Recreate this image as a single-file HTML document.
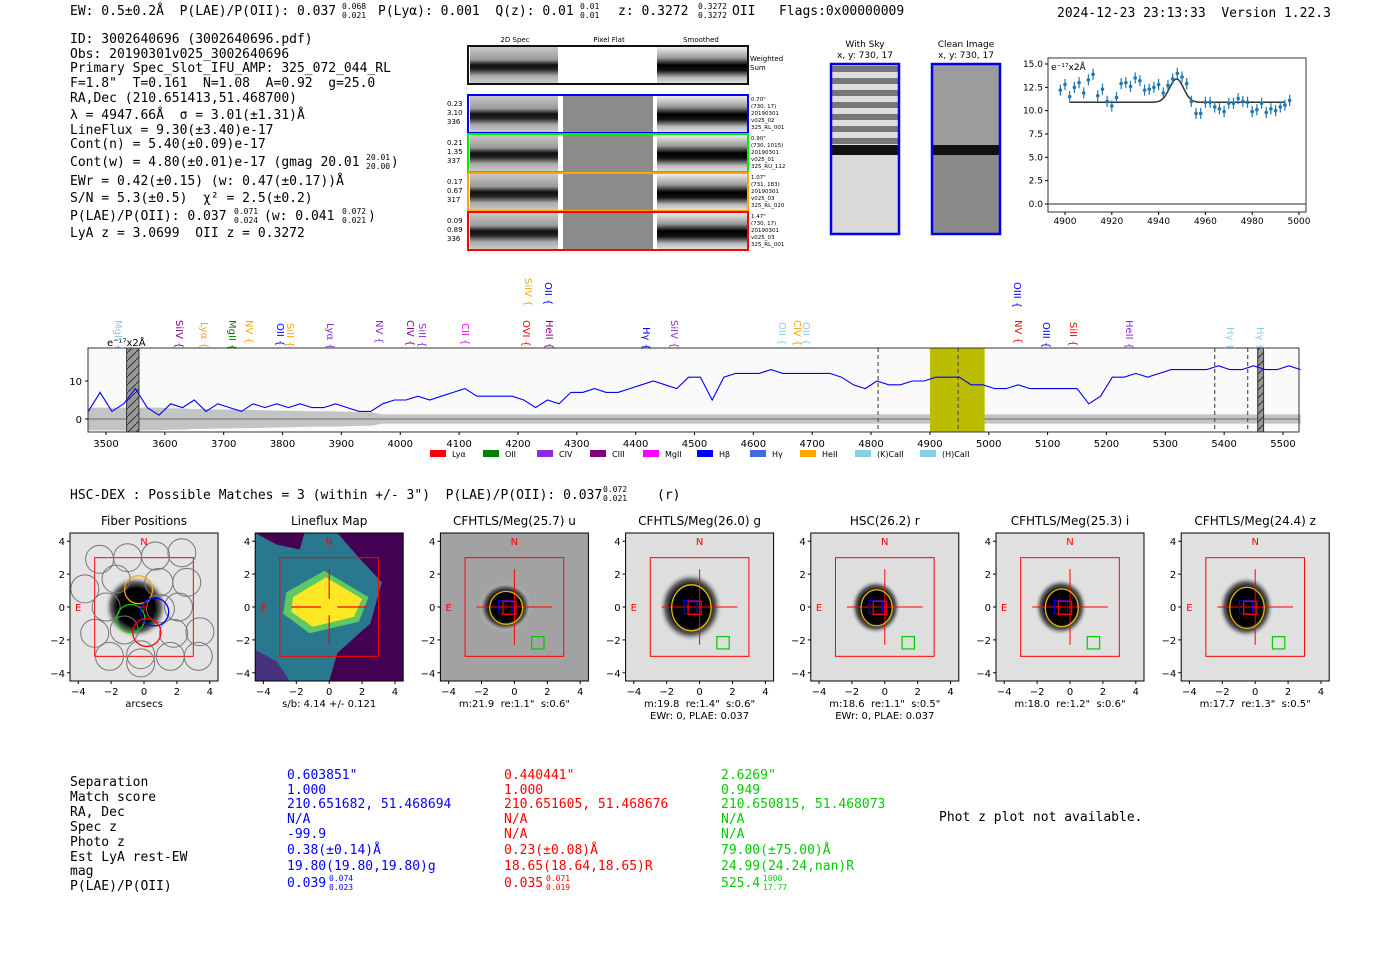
<!DOCTYPE html>
<html><head><meta charset="utf-8"><style>
html,body{margin:0;padding:0;background:#fff;}
svg{display:block;font-family:"DejaVu Sans","Liberation Sans",sans-serif;}
svg text{white-space:pre;}
.m{font-family:"DejaVu Sans Mono","Liberation Mono",monospace;font-size:13px;}
.t{font-size:10px;fill:#000;}
</style></head><body>
<svg id="root" width="1400" height="953" viewBox="0 0 1400 953" xml:space="preserve">
<defs>
<linearGradient id="band" x1="0" y1="0" x2="0" y2="1">
<stop offset="0" stop-color="#c8c8c8"/><stop offset="0.35" stop-color="#9a9a9a"/><stop offset="0.5" stop-color="#111"/><stop offset="0.62" stop-color="#222"/><stop offset="0.8" stop-color="#aaa"/><stop offset="1" stop-color="#c8c8c8"/></linearGradient>
<linearGradient id="bandS" x1="0" y1="0" x2="0" y2="1">
<stop offset="0" stop-color="#eee"/><stop offset="0.3" stop-color="#999"/><stop offset="0.5" stop-color="#000"/><stop offset="0.65" stop-color="#111"/><stop offset="0.85" stop-color="#bbb"/><stop offset="1" stop-color="#ddd"/></linearGradient>
<radialGradient id="blob"><stop offset="0" stop-color="#000"/><stop offset="0.6" stop-color="#000"/><stop offset="0.8" stop-color="#666"/><stop offset="1" stop-color="#ddd" stop-opacity="0"/></radialGradient>
<pattern id="hatch" width="8" height="8" patternUnits="userSpaceOnUse"><rect width="8" height="8" fill="#999"/><path d="M0 8 L8 0" stroke="#333" stroke-width="1"/></pattern>
<pattern id="sky" width="10" height="12" patternUnits="userSpaceOnUse"><rect width="10" height="12" fill="#ddd"/><rect y="6" width="10" height="6" fill="#777"/></pattern>
</defs>

<g class="m">
<text x="70" y="15">EW: 0.5±0.2Å  P(LAE)/P(OII): 0.037</text>
<text x="342" y="9" font-size="8">0.068</text><text x="342" y="18" font-size="8">0.021</text>
<text x="378" y="15">P(Lyα): 0.001  Q(z): 0.01</text>
<text x="580" y="9" font-size="8">0.01</text><text x="580" y="18" font-size="8">0.01</text>
<text x="618" y="15">z: 0.3272</text>
<text x="698" y="9" font-size="8">0.3272</text><text x="698" y="18" font-size="8">0.3272</text>
<text x="732" y="15">OII   Flags:0x00000009</text>
<text x="1057" y="17">2024-12-23 23:13:33  Version 1.22.3</text>
</g>

<g class="m">
<text x="70" y="43">ID: 3002640696 (3002640696.pdf)</text>
<text x="70" y="58">Obs: 20190301v025_3002640696</text>
<text x="70" y="72">Primary Spec_Slot_IFU_AMP: 325_072_044_RL</text>
<text x="70" y="87">F=1.8"  T=0.161  N=1.08  A=0.92  g=25.0</text>
<text x="70" y="102">RA,Dec (210.651413,51.468700)</text>
<text x="70" y="119">λ = 4947.66Å  σ = 3.01(±1.31)Å</text>
<text x="70" y="134">LineFlux = 9.30(±3.40)e-17</text>
<text x="70" y="148">Cont(n) = 5.40(±0.09)e-17</text>
<text x="70" y="166">Cont(w) = 4.80(±0.01)e-17 (gmag 20.01    )</text>
<text x="366" y="160" font-size="8">20.01</text><text x="366" y="169" font-size="8">20.00</text>
<text x="70" y="185">EWr = 0.42(±0.15) (w: 0.47(±0.17))Å</text>
<text x="70" y="202">S/N = 5.3(±0.5)  χ² = 2.5(±0.2)</text>
<text x="70" y="220">P(LAE)/P(OII): 0.037</text>
<text x="234" y="214" font-size="8">0.071</text><text x="234" y="223" font-size="8">0.024</text>
<text x="264" y="220">(w: 0.041</text>
<text x="342" y="214" font-size="8">0.072</text><text x="342" y="223" font-size="8">0.021</text>
<text x="368" y="220">)</text>
<text x="70" y="237">LyA z = 3.0699  OII z = 0.3272</text>
</g>

<g id="spec2d"></g>
<g id="stamps"></g>
<g id="zoomplot"></g>
<g id="specplot"></g>

<g class="m">
<text x="70" y="499">HSC-DEX : Possible Matches = 3 (within +/- 3")  P(LAE)/P(OII): 0.037       (r)</text>
<text x="603" y="492" font-size="8">0.072</text><text x="603" y="501" font-size="8">0.021</text>
</g>

<g id="cutouts"></g>

<g class="m">
<g fill="#000"><text x="70" y="786">Separation</text><text x="70" y="801">Match score</text><text x="70" y="816">RA, Dec</text><text x="70" y="831">Spec z</text><text x="70" y="846">Photo z</text><text x="70" y="861">Est LyA rest-EW</text><text x="70" y="875">mag</text><text x="70" y="890">P(LAE)/P(OII)</text></g>
<g fill="#0000ff"><text x="287" y="779">0.603851"</text><text x="287" y="794">1.000</text><text x="287" y="808">210.651682, 51.468694</text><text x="287" y="823">N/A</text><text x="287" y="838">-99.9</text><text x="287" y="854">0.38(±0.14)Å</text><text x="287" y="870">19.80(19.80,19.80)g</text><text x="287" y="887">0.039</text><text x="329" y="881" font-size="8">0.074</text><text x="329" y="890" font-size="8">0.023</text></g>
<g fill="#ff0000"><text x="504" y="779">0.440441"</text><text x="504" y="794">1.000</text><text x="504" y="808">210.651605, 51.468676</text><text x="504" y="823">N/A</text><text x="504" y="838">N/A</text><text x="504" y="854">0.23(±0.08)Å</text><text x="504" y="870">18.65(18.64,18.65)R</text><text x="504" y="887">0.035</text><text x="546" y="881" font-size="8">0.071</text><text x="546" y="890" font-size="8">0.019</text></g>
<g fill="#00cc00"><text x="721" y="779">2.6269"</text><text x="721" y="794">0.949</text><text x="721" y="808">210.650815, 51.468073</text><text x="721" y="823">N/A</text><text x="721" y="838">N/A</text><text x="721" y="854">79.00(±75.00)Å</text><text x="721" y="870">24.99(24.24,nan)R</text><text x="721" y="887">525.4</text><text x="763" y="881" font-size="8">1000</text><text x="763" y="890" font-size="8">17.77</text></g>
<text x="939" y="821" fill="#000">Phot z plot not available.</text>
</g>
</svg>

<script>
// ---------- data ----------
const specStart = 3470, specStep = 20;
const specFlux = [2,7,2,4,8,3,1,4,3,5,2,4,3,2,4,3,4,3,4,3,3,4,3,2,2,4,5,5,6,5,6,7,8,6,6,6,6,5,3,5,4,7,7,8,7,7,8,9,10,9,8,11,11,5,11,12,12,12,13,12,12,12,12,12,11,9,8,10,9,9,10,10,11,11,11,9,9,8,8,9,8,8,8,8,8,4,6,11,11,12,11,12,13,13,13,13,14,13,13,14,13,13,14,13];
const specErrHalf = [3,3,3,3,3,3,3,2.8,2.8,2.6,2.6,2.5,2.5,2.4,2.4,2.3,2.2,2.2,2.1,2,2,2,1.9,1.8,1.8];
const xTicks = [3500,3600,3700,3800,3900,4000,4100,4200,4300,4400,4500,4600,4700,4800,4900,5000,5100,5200,5300,5400,5500];
const yTicks = [0,10];
const dashedLines = [4812,4948,5384,5440];
const fitWave = [4898,4900,4902,4904,4906,4908,4910,4912,4914,4916,4918,4920,4922,4924,4926,4928,4930,4932,4934,4936,4938,4940,4942,4944,4946,4948,4950,4952,4954,4956,4958,4960,4962,4964,4966,4968,4970,4972,4974,4976,4978,4980,4982,4984,4986,4988,4990,4992,4994,4996];
const fitFlux = [12.2,12.8,11.5,12.5,13.0,11.9,13.3,13.9,11.6,12.3,11.0,10.5,11.4,12.9,13.0,12.6,13.5,13.2,12.2,12.3,12.5,12.8,11.9,12.7,13.4,14.0,13.6,12.9,11.0,9.7,9.7,10.9,10.9,10.4,10.2,9.9,10.8,10.8,11.3,11.0,10.9,9.9,10.1,10.8,9.8,10.2,10.0,10.4,10.6,11.1];
const fitModel = {base:10.9, amp:2.5, mu:4947.66, sigma:3.01};
const fitXTicks = [4900,4920,4940,4960,4980,5000];
const fitYTicks = [0.0,2.5,5.0,7.5,10.0,12.5,15.0];

const NS='http://www.w3.org/2000/svg';
function el(tag, attrs, parent, text){const e=document.createElementNS(NS,tag);for(const k in attrs)e.setAttribute(k,attrs[k]);if(text!==undefined)e.textContent=text;parent.appendChild(e);return e;}

// ---------- 2D spectra ----------
(function(){
 const g=document.getElementById('spec2d');
 el('text',{x:515,y:42,'font-size':7,'text-anchor':'middle'},g,'2D Spec');
 el('text',{x:609,y:42,'font-size':7,'text-anchor':'middle'},g,'Pixel Flat');
 el('text',{x:701,y:42,'font-size':7,'text-anchor':'middle'},g,'Smoothed');
 el('text',{x:750,y:61,'font-size':7},g,'Weighted');
 el('text',{x:750,y:70,'font-size':7},g,'Sum');
 const rows=[{y:46,c:'#111',l:null},{y:95,c:'#0000ff',l:['0.23','3.10','336'],r:['0.70"','(730, 17)','20190301','v025_02','325_RL_001']},{y:134,c:'#00ee00',l:['0.21','1.35','337'],r:['0.90"','(730, 1015)','20190301','v025_01','325_RU_112']},{y:173,c:'#ffa500',l:['0.17','0.67','317'],r:['1.07"','(731, 183)','20190301','v025_03','325_RL_020']},{y:212,c:'#ff0000',l:['0.09','0.89','336'],r:['1.47"','(730, 17)','20190301','v025_03','325_RL_001']}];
 rows.forEach((r,i)=>{
  const h=38;
  el('rect',{x:470,y:r.y+1,width:88,height:h-2,fill:'url(#band)'},g);
  el('rect',{x:563,y:r.y+1,width:90,height:h-2,fill:i==0?'#fff':'#8c8c8c'},g);
  el('rect',{x:657,y:r.y+1,width:90,height:h-2,fill:'url(#bandS)'},g);
  const b=el('rect',{x:468,y:r.y,width:280,height:h,fill:'none',stroke:r.c,'stroke-width':2},g);
  
  
  if(r.l) r.l.forEach((t,j)=>el('text',{x:447,y:r.y+11+j*9,'font-size':7},g,t));
  if(r.r) r.r.forEach((t,j)=>el('text',{x:751,y:r.y+6+j*7,'font-size':5.5},g,t));
 });
})();

// ---------- sky stamps ----------
(function(){
 const g=document.getElementById('stamps');
 el('text',{x:865,y:47,'font-size':9,'text-anchor':'middle'},g,'With Sky');
 el('text',{x:865,y:58,'font-size':9,'text-anchor':'middle'},g,'x, y: 730, 17');
 el('text',{x:966,y:47,'font-size':9,'text-anchor':'middle'},g,'Clean Image');
 el('text',{x:966,y:58,'font-size':9,'text-anchor':'middle'},g,'x, y: 730, 17');
 el('rect',{x:832,y:65,width:67,height:168,fill:'#d9d9d9'},g);
 el('rect',{x:832,y:65,width:67,height:82,fill:'url(#sky)'},g);
 el('rect',{x:832,y:145,width:67,height:10,fill:'#111'},g);
 el('rect',{x:933,y:65,width:67,height:168,fill:'#8a8a8a'},g);
 el('rect',{x:933,y:65,width:67,height:80,fill:'#9c9c9c'},g);
 el('rect',{x:933,y:145,width:67,height:10,fill:'#111'},g);
 el('rect',{x:831,y:64,width:68,height:170,fill:'none',stroke:'#0000ee','stroke-width':2.5},g);
 el('rect',{x:932,y:64,width:68,height:170,fill:'none',stroke:'#0000ee','stroke-width':2.5},g);
})();

// ---------- zoom fit plot ----------
(function(){
 const g=document.getElementById('zoomplot');
 const L=1048,R=1306,T=58,B=212;
 const x=w=>1065+(w-4900)*(1299-1065)/100;
 const y=v=>204-(v)*(204-64)/15;
 el('rect',{x:L,y:T,width:R-L,height:B-T,fill:'#fff',stroke:'#333','stroke-width':1},g);
 el('line',{x1:L,x2:R,y1:y(0),y2:y(0),stroke:'#555','stroke-width':1.2},g);
 fitXTicks.forEach(t=>{el('line',{x1:x(t),x2:x(t),y1:B,y2:B+3,stroke:'#000'},g);el('text',{x:x(t),y:B+12,class:'t','text-anchor':'middle',style:'font-size:9px'},g,String(t));});
 fitYTicks.forEach(t=>{el('line',{x1:L-3,x2:L,y1:y(t),y2:y(t),stroke:'#000'},g);el('text',{x:L-5,y:y(t)+3,class:'t','text-anchor':'end',style:'font-size:9px'},g,t.toFixed(1));});
 el('text',{x:L+3,y:T+12,'font-size':9},g,'e⁻¹⁷x2Å');
 let d='';
 for(let w=4902;w<=4994;w+=0.5){const v=fitModel.base+fitModel.amp*Math.exp(-0.5*Math.pow((w-fitModel.mu)/fitModel.sigma,2));d+=(d?'L':'M')+x(w).toFixed(1)+' '+y(v).toFixed(1);}
 el('path',{d:d,fill:'none',stroke:'#333','stroke-width':1.5},g);
 fitWave.forEach((w,i)=>{
  el('line',{x1:x(w),x2:x(w),y1:y(fitFlux[i]+0.6),y2:y(fitFlux[i]-0.6),stroke:'#1f77b4','stroke-width':1.2},g);
  const c=el('circle',{cx:x(w),cy:y(fitFlux[i]),r:1.8,fill:'#1f77b4'},g);
  
  
 });
})();

// ---------- full spectrum ----------
(function(){
 const g=document.getElementById('specplot');
 const L=88,R=1299,T=348,B=432;
 const x=w=>106+(w-3500)*(1283-106)/2000;
 const y=v=>419-v*3.8;
 el('rect',{x:L,y:T,width:R-L,height:B-T,fill:'#fafafa'},g);
 let up='',dn='';
 for(let i=0;i<specFlux.length;i++){const w=specStart+i*specStep;const ee=i<specErrHalf.length?specErrHalf[i]:1.2;up+=(up?'L':'M')+x(w).toFixed(1)+' '+y(ee).toFixed(1);dn=' L'+x(w).toFixed(1)+' '+y(-ee).toFixed(1)+dn;}
 el('path',{d:up+dn+'Z',fill:'#c4c4c4'},g);
 el('line',{x1:L,x2:R,y1:y(0),y2:y(0),stroke:'#888','stroke-width':1.5},g);
 el('rect',{x:x(4900),y:T,width:x(4993)-x(4900),height:B-T,fill:'#bcbc00'},g);
 dashedLines.forEach(w=>el('line',{x1:x(w),x2:x(w),y1:T,y2:B,stroke:'#555','stroke-dasharray':'4,3','stroke-width':1.2},g));
 el('rect',{x:x(3535),y:T,width:x(3556)-x(3535),height:B-T,fill:'url(#hatch)',stroke:'#333'},g);
 el('rect',{x:x(5457),y:T,width:x(5467)-x(5457),height:B-T,fill:'url(#hatch)',stroke:'#333'},g);
 let d='';
 specFlux.forEach((v,i)=>{const w=specStart+i*specStep;d+=(d?'L':'M')+x(w).toFixed(1)+' '+y(v).toFixed(1);});
 const p=el('path',{d:d,fill:'none',stroke:'#0000ff','stroke-width':1.1},g);
 
 
 el('rect',{x:L,y:T,width:R-L,height:B-T,fill:'none',stroke:'#333','stroke-width':1},g);
 xTicks.forEach(t=>{el('line',{x1:x(t),x2:x(t),y1:B,y2:B+3,stroke:'#000'},g);el('text',{x:x(t),y:B+15,class:'t','text-anchor':'middle'},g,String(t));});
 yTicks.forEach(t=>{el('line',{x1:L-3,x2:L,y1:y(t),y2:y(t),stroke:'#000'},g);el('text',{x:L-6,y:y(t)+4,class:'t','text-anchor':'end'},g,String(t));});
 el('text',{x:107,y:346,'font-size':10},g,'e⁻¹⁷x2Å');
 const labs=[[118,320,'#87ceeb','MgII'],[179,320,'#800080','SiIV'],[204,322,'#ffa500','Lyα'],[232,320,'#008000','MgII'],[249,320,'#ffa500','NV'],[280,323,'#0000ff','OII'],[290,323,'#ffa500','SiII'],[330,323,'#8a2be2','Lyα'],[379,320,'#8a2be2','NV'],[410,320,'#800080','CIV'],[422,323,'#8a2be2','SiII'],[465,323,'#ff00ff','CII'],[526,320,'#ff0000','OVI'],[549,320,'#800080','HeII'],[646,327,'#0000ff','Hγ'],[674,320,'#8a2be2','SiIV'],[782,322,'#87ceeb','OII'],[797,320,'#ffa500','CIV'],[806,322,'#87ceeb','OII'],[1018,320,'#ff0000','NV'],[1046,322,'#0000ff','OIII'],[1073,322,'#ff0000','SiII'],[1129,320,'#8a2be2','HeII'],[1230,327,'#87ceeb','Hγ'],[1260,327,'#87ceeb','Hγ'],[528,278,'#ffa500','SiIV'],[548,282,'#0000ff','OII'],[1017,282,'#0000ff','OIII']];
 labs.forEach(a=>{
  const tx=el('text',{x:a[0]-3,y:a[1],fill:a[2],'font-size':10,transform:'rotate(90 '+(a[0]-3)+' '+a[1]+')'},g,a[3]+' {');
  
  
 });
 const leg=[[430,'#ff0000','Lyα'],[483,'#008000','OII'],[537,'#8a2be2','CIV'],[590,'#800080','CIII'],[643,'#ff00ff','MgII'],[697,'#0000ff','Hβ'],[750,'#4169e1','Hγ'],[800,'#ffa500','HeII'],[855,'#87ceeb','(K)CaII'],[920,'#87ceeb','(H)CaII']];
 leg.forEach(a=>{
  const r=el('rect',{x:a[0],y:450,width:16,height:7,fill:a[1]},g);
  
  
  el('text',{x:a[0]+22,y:457,'font-size':8},g,a[2]);
 });
})();

// ---------- cutouts ----------
(function(){
 const g=document.getElementById('cutouts');
 const titles=['Fiber Positions','Lineflux Map','CFHTLS/Meg(25.7) u','CFHTLS/Meg(26.0) g','HSC(26.2) r','CFHTLS/Meg(25.3) i','CFHTLS/Meg(24.4) z'];
 const sub1=['arcsecs','s/b: 4.14 +/- 0.121','m:21.9  re:1.1"  s:0.6"','m:19.8  re:1.4"  s:0.6"','m:18.6  re:1.1"  s:0.5"','m:18.0  re:1.2"  s:0.6"','m:17.7  re:1.3"  s:0.5"'];
 const sub2=['','','','EWr: 0, PLAE: 0.037','EWr: 0, PLAE: 0.037','',''];
 const ell=[[0,0],[0,0],[1.0,1.0],[1.2,1.4],[0.95,1.1],[1.0,1.15],[1.05,1.25]];
 const bgc=['#e4e4e4','#2a788e','#a2a2a2','#dedede','#dedede','#e0e0e0','#e0e0e0'];
 for(let k=0;k<7;k++){
  const L=70+185.2*k, T=533, S=148, u=S/9, cx=L+74, cy=607;
  const X=v=>cx+v*u, Y=v=>cy-v*u;
  const pg=el('g',{},g);
  
  
  el('text',{x:cx,y:T-8,'font-size':12,'text-anchor':'middle'},pg,titles[k]);
  el('rect',{x:L,y:T,width:S,height:S,fill:bgc[k]},pg);
  if(k==1){
   el('polygon',{points:[X(-4.5),Y(4.5),X(-1.5),Y(4.5),X(-1.8),Y(3.5),X(-3.2),Y(3.8)].join(','),fill:'#440154'},pg);
   el('polygon',{points:[X(0.5),Y(4.5),X(4.5),Y(4.5),X(4.5),Y(-4.5),X(0),Y(-4.5),X(0.5),Y(-2.8),X(2.5),Y(-1),X(3.2),Y(1.5),X(1.8),Y(3)].join(','),fill:'#440154'},pg);
   el('polygon',{points:[X(-4.5),Y(-2.6),X(-3.2),Y(-3.3),X(-2.4),Y(-4.5),X(-4.5),Y(-4.5)].join(','),fill:'#46337f'},pg);
   el('polygon',{points:[X(-2.6),Y(0.9),X(-0.3),Y(2.2),X(2.4),Y(0.6),X(1.8),Y(-0.9),X(-1.2),Y(-1.6),X(-2.8),Y(-0.4)].join(','),fill:'#5ec962'},pg);
   el('polygon',{points:[X(-2.2),Y(0.6),X(-0.2),Y(1.8),X(2.0),Y(0.5),X(1.5),Y(-0.6),X(-1.0),Y(-1.2),X(-2.3),Y(-0.3)].join(','),fill:'#fde725'},pg);
  } else {
   el('ellipse',{cx:X(k==0?-0.5:-0.55),cy:Y(0),rx:(k==0?1.9:ell[k][0]*1.6)*u,ry:(k==0?1.9:ell[k][1]*1.5)*u,fill:'url(#blob)'},pg);
  }
  el('rect',{x:L,y:T,width:S,height:S,fill:'none',stroke:'#000','stroke-width':1},pg);
  [-4,-2,0,2,4].forEach(t=>{
   el('line',{x1:X(t),x2:X(t),y1:T+S,y2:T+S+3,stroke:'#000'},pg);
   el('text',{x:X(t),y:T+S+14,'font-size':10,'text-anchor':'middle'},pg,(t<0?'−':'')+Math.abs(t));
   el('line',{x1:L-3,x2:L,y1:Y(t),y2:Y(t),stroke:'#000'},pg);
   el('text',{x:L-5,y:Y(t)+4,'font-size':10,'text-anchor':'end'},pg,(t<0?'−':'')+Math.abs(t));
  });
  el('text',{x:cx,y:T+S+26,'font-size':10,'text-anchor':'middle'},pg,sub1[k]);
  if(sub2[k]) el('text',{x:cx,y:T+S+38,'font-size':10,'text-anchor':'middle'},pg,sub2[k]);
  el('text',{x:X(0),y:Y(4)+4,'font-size':10,fill:'#ff0000','text-anchor':'middle'},pg,'N');
  el('text',{x:X(-4),y:Y(0)+4,'font-size':10,fill:'#ff0000','text-anchor':'middle'},pg,'E');
  el('rect',{x:X(-3),y:Y(3),width:6*u,height:6*u,fill:'none',stroke:'#ff0000','stroke-width':1},pg);
  if(k==0){
   const hx=[[-2.7,2.9],[-1,3.0],[0.7,3.1],[2.3,3.3],[-3.6,1.1],[-1.7,1.7],[0.9,1.5],[2.6,1.5],[-2.3,0.0],[2.1,0.0],[3.4,-1.5],[-3.0,-1.6],[-1.2,-1.4],[1.8,-1.6],[-2.1,-3.0],[-0.2,-2.9],[1.6,-3.0],[3.3,-3.0],[-0.2,-3.4],[1.0,-0.1]];
   hx.forEach(c=>el('circle',{cx:X(c[0]),cy:Y(c[1]),r:0.85*u,fill:'none',stroke:'#777','stroke-width':1},pg));
   [['#ffa500',-0.33,1.05],['#00cc00',-0.8,-0.7],['#0000ff',0.65,-0.3],['#ff0000',0.17,-1.55]].forEach(c=>el('circle',{cx:X(c[1]),cy:Y(c[2]),r:0.85*u,fill:'none',stroke:c[0],'stroke-width':1.3},pg));
   el('line',{x1:X(-0.25),x2:X(0.25),y1:Y(0),y2:Y(0),stroke:'#f00'},pg);
   el('line',{x1:X(0),x2:X(0),y1:Y(0.25),y2:Y(-0.25),stroke:'#f00'},pg);
  } else if(k==1){
   el('line',{x1:X(-2.3),x2:X(-0.5),y1:Y(0),y2:Y(0),stroke:'#f00','stroke-width':1.2},pg);
   el('line',{x1:X(0.5),x2:X(2.3),y1:Y(0),y2:Y(0),stroke:'#f00','stroke-width':1.2},pg);
   el('line',{x1:X(0),x2:X(0),y1:Y(2.3),y2:Y(0.5),stroke:'#f00','stroke-width':1.2},pg);
   el('line',{x1:X(0),x2:X(0),y1:Y(-0.5),y2:Y(-2.3),stroke:'#f00','stroke-width':1.2},pg);
  } else {
   el('line',{x1:X(-2.3),x2:X(2.3),y1:Y(0),y2:Y(0),stroke:'#f00','stroke-width':1},pg);
   el('line',{x1:X(0),x2:X(0),y1:Y(2.3),y2:Y(-2.3),stroke:'#f00','stroke-width':1},pg);
   el('ellipse',{cx:X(-0.5),cy:Y(-0.05),rx:ell[k][0]*u,ry:ell[k][1]*u,fill:'none',stroke:'#e6b800','stroke-width':1.3},pg);
   el('rect',{x:X(-0.95),y:Y(0.4),width:0.8*u,height:0.8*u,fill:'none',stroke:'#0000ff','stroke-width':1.2},pg);
   el('rect',{x:X(-0.7),y:Y(0.35),width:0.8*u,height:0.8*u,fill:'none',stroke:'#ff0000','stroke-width':1.2},pg);
   el('rect',{x:X(1.05),y:Y(-1.8),width:0.75*u,height:0.75*u,fill:'none',stroke:'#00cc00','stroke-width':1.2},pg);
  }
 }
})();
</script>
</body></html>
